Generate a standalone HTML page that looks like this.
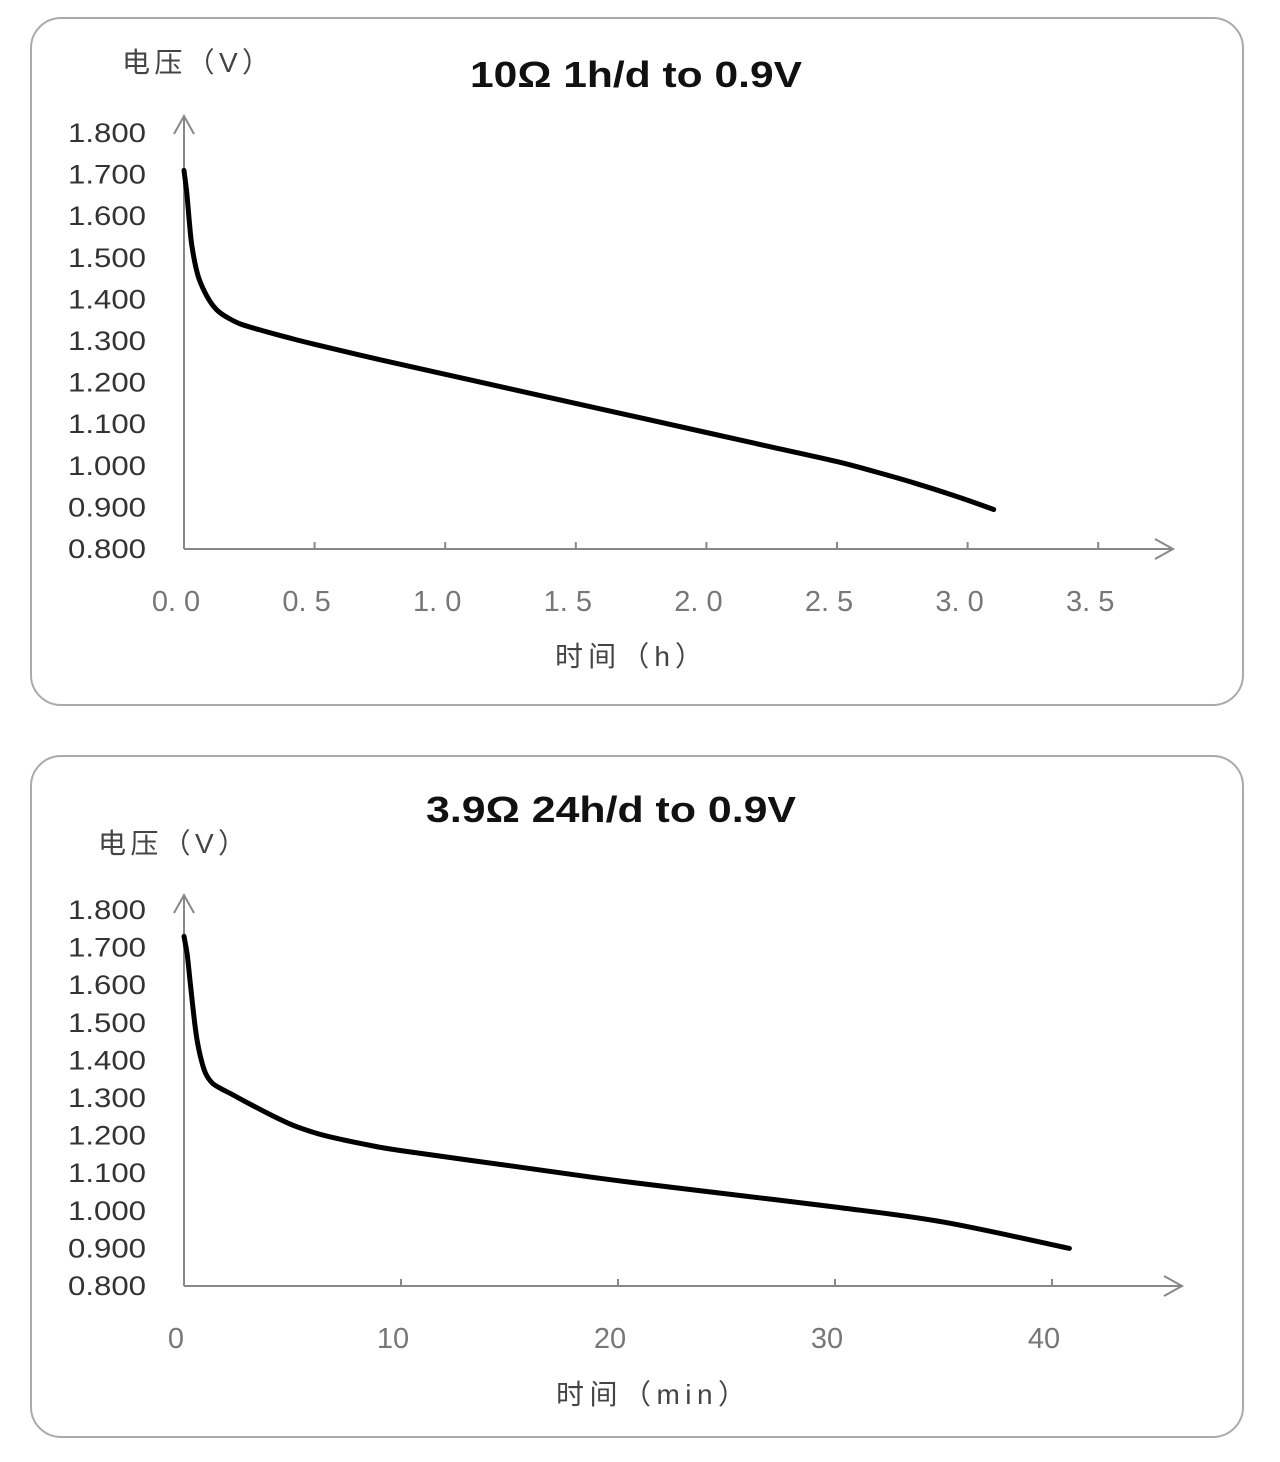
<!DOCTYPE html>
<html><head><meta charset="utf-8"><style>
body{margin:0;background:#fff;width:1280px;height:1462px;overflow:hidden}
svg{display:block}
text{font-family:"Liberation Sans","Noto Sans CJK SC",sans-serif}
</style></head><body>
<svg id="s" width="1280" height="1462">
<rect x="31" y="18" width="1212" height="687" rx="30" fill="#fff" stroke="#aaa" stroke-width="2"/>
<rect x="31" y="756" width="1212" height="681" rx="30" fill="#fff" stroke="#aaa" stroke-width="2"/>
<text x="470" y="87" textLength="332" lengthAdjust="spacingAndGlyphs" font-size="36" font-weight="bold" fill="#111">10Ω 1h/d to 0.9V</text>
<text x="426" y="822" textLength="370" lengthAdjust="spacingAndGlyphs" font-size="36" font-weight="bold" fill="#111">3.9Ω 24h/d to 0.9V</text>
<text x="122" y="72" textLength="148" font-size="28" fill="#444">电压（V）</text>
<text x="98" y="853" textLength="148" font-size="28" fill="#444">电压（V）</text>
<text x="555" y="666" textLength="148" font-size="28" fill="#444">时间（h）</text>
<text x="556" y="1404" textLength="190" font-size="28" fill="#444">时间（min）</text>
</svg>
<script>
const yTicks=[0.8,0.9,1.0,1.1,1.2,1.3,1.4,1.5,1.6,1.7,1.8];
const x1Ticks=[0,0.5,1.0,1.5,2.0,2.5,3.0,3.5];
const x1Labels=["0. 0","0. 5","1. 0","1. 5","2. 0","2. 5","3. 0","3. 5"];
const t1=[0,0.01,0.02,0.03,0.05,0.07,0.1,0.13,0.17,0.22,0.3,0.4,0.5,0.75,1.0,1.5,2.0,2.25,2.5,2.65,2.8,2.95,3.1];
const v1=[1.71,1.66,1.59,1.53,1.465,1.43,1.395,1.372,1.355,1.34,1.325,1.308,1.292,1.255,1.22,1.15,1.08,1.045,1.01,0.985,0.958,0.928,0.895];
const x2Ticks=[0,10,20,30,40];
const x2Labels=["0","10","20","30","40"];
const t2=[0,0.15,0.3,0.45,0.6,0.8,1.0,1.3,1.7,2.2,3,4,5,6,7,8.5,10,15,20,25,30,35,40.8];
const v2=[1.73,1.68,1.6,1.52,1.455,1.4,1.365,1.34,1.325,1.31,1.285,1.255,1.228,1.208,1.193,1.175,1.16,1.12,1.08,1.045,1.01,0.97,0.9];
const svg=document.getElementById('s');
const NS='http://www.w3.org/2000/svg';
function mk(tag,attrs,parent){const e=document.createElementNS(NS,tag);for(const k in attrs)e.setAttribute(k,attrs[k]);(parent||svg).appendChild(e);return e;}
function smooth(pts){
  let d='M'+pts[0][0].toFixed(1)+' '+pts[0][1].toFixed(1);
  for(let i=0;i<pts.length-1;i++){
    const p0=pts[Math.max(0,i-1)],p1=pts[i],p2=pts[i+1],p3=pts[Math.min(pts.length-1,i+2)];
    const c1=[p1[0]+(p2[0]-p0[0])/6,p1[1]+(p2[1]-p0[1])/6];
    const c2=[p2[0]-(p3[0]-p1[0])/6,p2[1]-(p3[1]-p1[1])/6];
    d+=`C${c1[0].toFixed(1)} ${c1[1].toFixed(1)} ${c2[0].toFixed(1)} ${c2[1].toFixed(1)} ${p2[0].toFixed(1)} ${p2[1].toFixed(1)}`;
  }
  return d;
}
function chart(cfg){
  const xs=v=>cfg.x0+(v-cfg.xmin)*cfg.xk;
  const ys=v=>cfg.yB-(v-0.8)*(cfg.yB-cfg.yT);
  const g=mk('g',{});
  
  
  let ax=mk('path',{d:`M${cfg.x0} ${ys(0.8)}H${cfg.xEnd}M${cfg.xEnd-18} ${ys(0.8)-10}L${cfg.xEnd} ${ys(0.8)}L${cfg.xEnd-18} ${ys(0.8)+10}`,stroke:'#888','stroke-width':2,fill:'none'},g);
  
  
  let ay=mk('path',{d:`M${cfg.x0} ${ys(0.8)}V${cfg.yTop}M${cfg.x0-10} ${cfg.yTop+18}L${cfg.x0} ${cfg.yTop}L${cfg.x0+10} ${cfg.yTop+18}`,stroke:'#888','stroke-width':2,fill:'none'},g);
  
  
  yTicks.forEach(v=>{
    const t=mk('text',{x:68,y:ys(v)+9,textLength:78,lengthAdjust:'spacingAndGlyphs','font-size':27,fill:'#333'},g);
    t.textContent=v.toFixed(3);
    
    
  });
  cfg.xt.forEach((v,i)=>{
    if(v>0){const m=mk('line',{x1:xs(v),x2:xs(v),y1:ys(0.8),y2:ys(0.8)-7,stroke:'#888','stroke-width':2},g);
    
    }
    const t=mk('text',{x:xs(v)-8,y:ys(0.8)+62,'text-anchor':'middle','font-size':29,fill:'#777','font-family':'Liberation Mono, monospace'},g);
    t.textContent=cfg.xl[i];
    
    
  });
  const pts=cfg.t.map((v,i)=>[xs(v),ys(cfg.v[i])]);
  const p=mk('path',{d:smooth(pts),stroke:'#000','stroke-width':5,fill:'none','stroke-linejoin':'round','stroke-linecap':'round'},g);
  
  
}
chart({name:'chart1',x0:184,xmin:0,xk:261.2,yB:549,yT:133,yTop:116,xEnd:1173,xt:x1Ticks,xl:x1Labels,t:t1,v:v1});
chart({name:'chart2',x0:184,xmin:0,xk:21.7,yB:1286,yT:910,yTop:895,xEnd:1182,xt:x2Ticks,xl:x2Labels,t:t2,v:v2});
</script>
</body></html>
